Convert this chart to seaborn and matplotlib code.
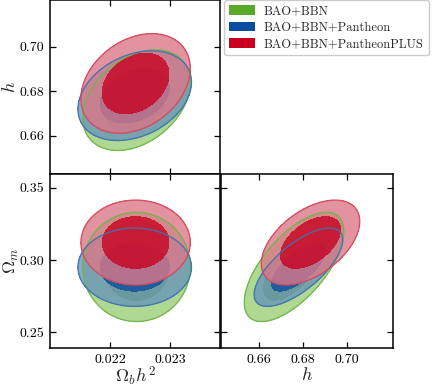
import numpy as np
import seaborn as sns
import matplotlib.pyplot as plt
from matplotlib.patches import Patch

# parameter order: Omega_b h^2, h, Omega_m
param_labels = [r"$\Omega_b h^2$", r"$h$", r"$\Omega_m$"]
param_lims = [(0.0210, 0.02383), (0.6428, 0.7210), (0.2391, 0.3595)]
param_ticks = [[0.022, 0.023], [0.66, 0.68, 0.70], [0.25, 0.30, 0.35]]
tick_fmt = ["%.3f", "%.2f", "%.2f"]

names = ["BAO+BBN", "BAO+BBN+Pantheon", "BAO+BBN+PantheonPLUS"]
colors = ["#58a82a", "#0a4c9e", "#c8001e"]          # inner (68%) fill / legend
light_colors = ["#9bd078", "#6a95b8", "#dc7889"]    # outer (95%) fill
edge_colors = ["#6fb548", "#3f72b0", "#d4485e"]

# means, sigmas and correlations (Ob-h, Ob-Om, h-Om)
mean_bbn = [0.02244, 0.6760, 0.2952]
sig_bbn = [0.000360, 0.0091, 0.0152]
rho_bbn = [0.35, 0.0, 0.65]

mean_pan = [0.02241, 0.6780, 0.2950]
sig_pan = [0.000380, 0.0081, 0.0109]
rho_pan = [0.30, 0.0, 0.70]

mean_plus = [0.022425, 0.6835, 0.3121]
sig_plus = [0.000366, 0.0090, 0.0118]
rho_plus = [0.30, 0.0, 0.50]

means = [mean_bbn, mean_pan, mean_plus]
sigmas = [sig_bbn, sig_pan, sig_plus]
rhos = [rho_bbn, rho_pan, rho_plus]
pair_index = {(0, 1): 0, (0, 2): 1, (1, 2): 2}

sns.set_theme(style="ticks")
plt.rcParams["font.family"] = ["cmr10"]
plt.rcParams["mathtext.fontset"] = "cm"
plt.rcParams["axes.formatter.use_mathtext"] = True
plt.rcParams["axes.unicode_minus"] = False

fig = plt.figure(figsize=(4.32, 3.88), dpi=100)
W, H = 432, 388
ax_hb = fig.add_axes([50 / W, (H - 174) / H, 170 / W, 174 / H])
ax_mb = fig.add_axes([50 / W, (H - 348) / H, 170 / W, 174 / H])
ax_mh = fig.add_axes([221 / W, (H - 348) / H, 172 / W, 174 / H])

panels = [(ax_hb, 0, 1), (ax_mb, 0, 2), (ax_mh, 1, 2)]


def chi2_grid(i, j, k, n=300):
    x = np.linspace(*param_lims[i], n)
    y = np.linspace(*param_lims[j], n)
    X, Y = np.meshgrid(x, y)
    dx = (X - means[k][i]) / sigmas[k][i]
    dy = (Y - means[k][j]) / sigmas[k][j]
    r = rhos[k][pair_index[(i, j)]]
    return X, Y, (dx**2 - 2 * r * dx * dy + dy**2) / (1 - r**2)


for ax, i, j in panels:
    for k in range(3):
        X, Y, Z = chi2_grid(i, j, k)
        ax.contourf(X, Y, Z, levels=[0, 6.18], colors=[light_colors[k]], alpha=0.8)
        ax.contour(X, Y, Z, levels=[6.18], colors=[edge_colors[k]], alpha=0.9, linewidths=1.0)
        ax.contourf(X, Y, Z, levels=[0, 2.30], colors=[colors[k]], alpha=0.78)
    ax.set_xlim(param_lims[i])
    ax.set_ylim(param_lims[j])
    ax.set_xticks(param_ticks[i])
    ax.set_yticks(param_ticks[j])
    ax.xaxis.set_major_formatter(plt.FormatStrFormatter(tick_fmt[i]))
    ax.yaxis.set_major_formatter(plt.FormatStrFormatter(tick_fmt[j]))
    ax.tick_params(direction="in", top=True, right=True, length=4, width=0.9,
                   labelsize=10, colors="black", pad=4)
    for s in ax.spines.values():
        s.set_linewidth(1.1)
        s.set_color("black")

ax_hb.tick_params(labelbottom=False)
ax_mh.tick_params(labelleft=False)
ax_hb.set_ylabel(param_labels[1], fontsize=13, labelpad=1)
ax_mb.set_ylabel(param_labels[2], fontsize=13, labelpad=-1)
ax_mb.set_xlabel(param_labels[0], fontsize=13, labelpad=-1)
ax_mh.set_xlabel(param_labels[1], fontsize=13, labelpad=0)

handles = [Patch(facecolor=c, edgecolor="none") for c in colors]
fig.legend(handles, names, loc="upper left", bbox_to_anchor=(224 / W, 1.0),
           bbox_transform=fig.transFigure, borderaxespad=0, fontsize=9,
           labelspacing=0.35, handlelength=2.1, handleheight=0.8,
           handletextpad=0.7, frameon=True, edgecolor="#cccccc",
           framealpha=1.0)

fig.savefig("out.png", dpi=100)
